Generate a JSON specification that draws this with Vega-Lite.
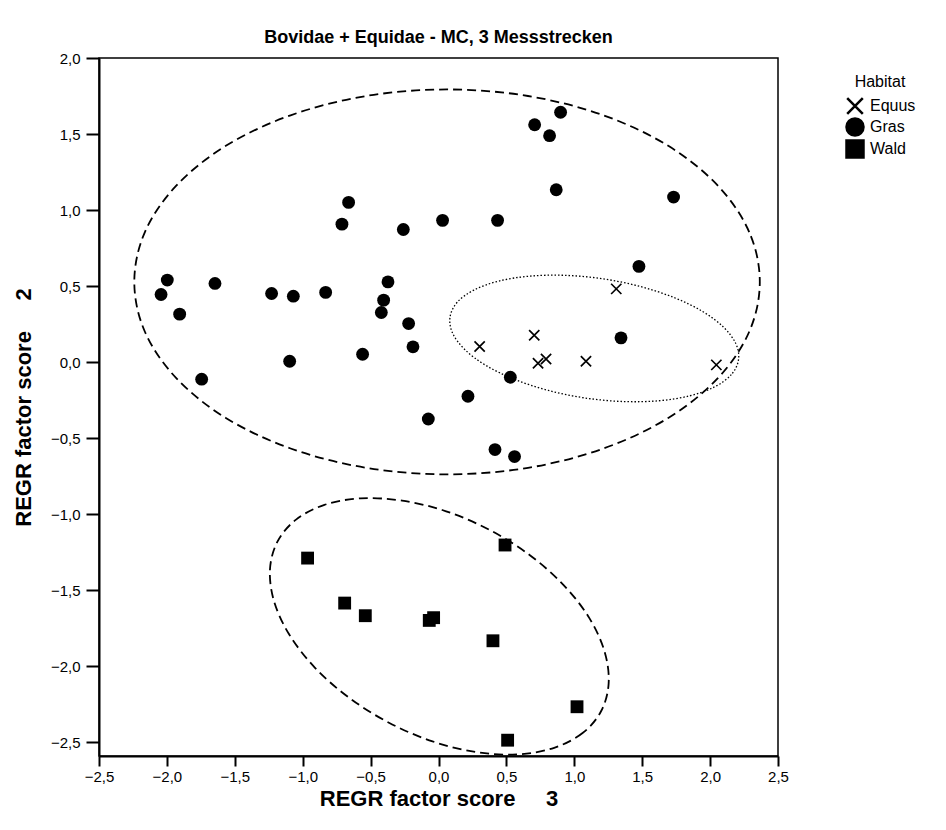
{
  "$schema": "https://vega.github.io/schema/vega-lite/v6.json",
  "width": 679,
  "height": 698,
  "autosize": {"type": "none"},
  "padding": {"left": 99, "top": 58, "right": 168, "bottom": 74},
  "background": "white",
  "title": {"text": "Bovidae + Equidae - MC, 3 Messstrecken", "font": "Liberation Sans", "fontSize": 18, "fontWeight": "bold", "color": "black", "anchor": "middle", "offset": 4},
  "config": {
    "view": {"stroke": "black", "strokeWidth": 1.5},
    "axis": {"grid": false, "domainColor": "black", "domainWidth": 2, "tickColor": "black", "tickWidth": 2, "labelColor": "black", "labelFont": "Liberation Sans", "labelFontSize": 15, "titleFont": "Liberation Sans", "titleFontSize": 22, "titleFontWeight": "bold", "titleColor": "black"}
  },
  "datasets": {
    "pts": [
      {"habitat": "Gras", "x": -1.997, "y": 0.539},
      {"habitat": "Gras", "x": -2.043, "y": 0.444},
      {"habitat": "Gras", "x": -1.906, "y": 0.315},
      {"habitat": "Gras", "x": -1.646, "y": 0.517},
      {"habitat": "Gras", "x": -1.744, "y": -0.113},
      {"habitat": "Gras", "x": -1.229, "y": 0.451},
      {"habitat": "Gras", "x": -1.069, "y": 0.433},
      {"habitat": "Gras", "x": -0.831, "y": 0.458},
      {"habitat": "Gras", "x": -1.096, "y": 0.005},
      {"habitat": "Gras", "x": -0.372, "y": 0.527},
      {"habitat": "Gras", "x": -0.404, "y": 0.407},
      {"habitat": "Gras", "x": -0.421, "y": 0.326},
      {"habitat": "Gras", "x": -0.22, "y": 0.253},
      {"habitat": "Gras", "x": -0.188, "y": 0.1},
      {"habitat": "Gras", "x": -0.559, "y": 0.051},
      {"habitat": "Gras", "x": 0.899, "y": 1.643},
      {"habitat": "Gras", "x": 0.708, "y": 1.561},
      {"habitat": "Gras", "x": 0.818, "y": 1.489},
      {"habitat": "Gras", "x": 0.867, "y": 1.133},
      {"habitat": "Gras", "x": 1.731, "y": 1.085},
      {"habitat": "Gras", "x": -0.662, "y": 1.05},
      {"habitat": "Gras", "x": -0.711, "y": 0.907},
      {"habitat": "Gras", "x": -0.259, "y": 0.872},
      {"habitat": "Gras", "x": 0.03, "y": 0.932},
      {"habitat": "Gras", "x": 0.435, "y": 0.932},
      {"habitat": "Gras", "x": 1.476, "y": 0.629},
      {"habitat": "Gras", "x": 1.344, "y": 0.159},
      {"habitat": "Gras", "x": 0.529, "y": -0.1},
      {"habitat": "Gras", "x": 0.217, "y": -0.225},
      {"habitat": "Gras", "x": -0.075, "y": -0.375},
      {"habitat": "Gras", "x": 0.416, "y": -0.576},
      {"habitat": "Gras", "x": 0.56, "y": -0.622},
      {"habitat": "Equus", "x": 1.309, "y": 0.481},
      {"habitat": "Equus", "x": 0.705, "y": 0.176},
      {"habitat": "Equus", "x": 0.303, "y": 0.102},
      {"habitat": "Equus", "x": 0.733, "y": -0.008},
      {"habitat": "Equus", "x": 0.792, "y": 0.02},
      {"habitat": "Equus", "x": 1.086, "y": 0.005},
      {"habitat": "Equus", "x": 2.046, "y": -0.019},
      {"habitat": "Wald", "x": -0.964, "y": -1.29},
      {"habitat": "Wald", "x": 0.49, "y": -1.204},
      {"habitat": "Wald", "x": -0.691, "y": -1.586},
      {"habitat": "Wald", "x": -0.539, "y": -1.669},
      {"habitat": "Wald", "x": -0.068, "y": -1.7},
      {"habitat": "Wald", "x": -0.036, "y": -1.682},
      {"habitat": "Wald", "x": 0.401, "y": -1.834},
      {"habitat": "Wald", "x": 1.02, "y": -2.268},
      {"habitat": "Wald", "x": 0.509, "y": -2.488}
    ],
    "dashed": [
      {"g": "G", "i": 0, "x": 2.366, "y": 0.527},
      {"g": "G", "i": 1, "x": 2.288, "y": 0.855},
      {"g": "G", "i": 2, "x": 2.057, "y": 1.16},
      {"g": "G", "i": 3, "x": 1.692, "y": 1.422},
      {"g": "G", "i": 4, "x": 1.215, "y": 1.623},
      {"g": "G", "i": 5, "x": 0.659, "y": 1.75},
      {"g": "G", "i": 6, "x": 0.063, "y": 1.793},
      {"g": "G", "i": 7, "x": -0.533, "y": 1.75},
      {"g": "G", "i": 8, "x": -1.089, "y": 1.623},
      {"g": "G", "i": 9, "x": -1.566, "y": 1.422},
      {"g": "G", "i": 10, "x": -1.931, "y": 1.16},
      {"g": "G", "i": 11, "x": -2.162, "y": 0.855},
      {"g": "G", "i": 12, "x": -2.24, "y": 0.527},
      {"g": "G", "i": 13, "x": -2.162, "y": 0.199},
      {"g": "G", "i": 14, "x": -1.931, "y": -0.106},
      {"g": "G", "i": 15, "x": -1.566, "y": -0.368},
      {"g": "G", "i": 16, "x": -1.089, "y": -0.569},
      {"g": "G", "i": 17, "x": -0.533, "y": -0.696},
      {"g": "G", "i": 18, "x": 0.063, "y": -0.739},
      {"g": "G", "i": 19, "x": 0.659, "y": -0.696},
      {"g": "G", "i": 20, "x": 1.215, "y": -0.569},
      {"g": "G", "i": 21, "x": 1.692, "y": -0.368},
      {"g": "G", "i": 22, "x": 2.057, "y": -0.106},
      {"g": "G", "i": 23, "x": 2.288, "y": 0.199},
      {"g": "W", "i": 0, "x": 1.198, "y": -2.296},
      {"g": "W", "i": 1, "x": 1.061, "y": -2.441},
      {"g": "W", "i": 2, "x": 0.852, "y": -2.538},
      {"g": "W", "i": 3, "x": 0.586, "y": -2.581},
      {"g": "W", "i": 4, "x": 0.28, "y": -2.567},
      {"g": "W", "i": 5, "x": -0.044, "y": -2.496},
      {"g": "W", "i": 6, "x": -0.365, "y": -2.373},
      {"g": "W", "i": 7, "x": -0.661, "y": -2.207},
      {"g": "W", "i": 8, "x": -0.911, "y": -2.01},
      {"g": "W", "i": 9, "x": -1.099, "y": -1.793},
      {"g": "W", "i": 10, "x": -1.211, "y": -1.574},
      {"g": "W", "i": 11, "x": -1.241, "y": -1.365},
      {"g": "W", "i": 12, "x": -1.186, "y": -1.182},
      {"g": "W", "i": 13, "x": -1.049, "y": -1.037},
      {"g": "W", "i": 14, "x": -0.84, "y": -0.94},
      {"g": "W", "i": 15, "x": -0.574, "y": -0.897},
      {"g": "W", "i": 16, "x": -0.268, "y": -0.912},
      {"g": "W", "i": 17, "x": 0.056, "y": -0.982},
      {"g": "W", "i": 18, "x": 0.377, "y": -1.105},
      {"g": "W", "i": 19, "x": 0.673, "y": -1.271},
      {"g": "W", "i": 20, "x": 0.923, "y": -1.469},
      {"g": "W", "i": 21, "x": 1.111, "y": -1.685},
      {"g": "W", "i": 22, "x": 1.223, "y": -1.905},
      {"g": "W", "i": 23, "x": 1.253, "y": -2.113}
    ],
    "dotted": [
      {"g": "E", "i": 0, "x": 2.209, "y": 0.014},
      {"g": "E", "i": 1, "x": 2.156, "y": -0.083},
      {"g": "E", "i": 2, "x": 2.034, "y": -0.163},
      {"g": "E", "i": 3, "x": 1.852, "y": -0.222},
      {"g": "E", "i": 4, "x": 1.622, "y": -0.255},
      {"g": "E", "i": 5, "x": 1.359, "y": -0.26},
      {"g": "E", "i": 6, "x": 1.082, "y": -0.237},
      {"g": "E", "i": 7, "x": 0.809, "y": -0.187},
      {"g": "E", "i": 8, "x": 0.56, "y": -0.114},
      {"g": "E", "i": 9, "x": 0.35, "y": -0.023},
      {"g": "E", "i": 10, "x": 0.195, "y": 0.081},
      {"g": "E", "i": 11, "x": 0.104, "y": 0.19},
      {"g": "E", "i": 12, "x": 0.085, "y": 0.296},
      {"g": "E", "i": 13, "x": 0.138, "y": 0.393},
      {"g": "E", "i": 14, "x": 0.26, "y": 0.473},
      {"g": "E", "i": 15, "x": 0.442, "y": 0.532},
      {"g": "E", "i": 16, "x": 0.672, "y": 0.565},
      {"g": "E", "i": 17, "x": 0.935, "y": 0.57},
      {"g": "E", "i": 18, "x": 1.212, "y": 0.547},
      {"g": "E", "i": 19, "x": 1.485, "y": 0.497},
      {"g": "E", "i": 20, "x": 1.734, "y": 0.424},
      {"g": "E", "i": 21, "x": 1.944, "y": 0.333},
      {"g": "E", "i": 22, "x": 2.099, "y": 0.229},
      {"g": "E", "i": 23, "x": 2.19, "y": 0.12}
    ]
  },
  "encoding": {
    "x": {"field": "x", "type": "quantitative",
      "scale": {"domain": [-2.5, 2.5], "nice": false, "zero": false},
      "axis": {"title": "REGR factor score\u00a0\u00a0\u00a0\u00a0\u00a03", "values": [-2.5, -2, -1.5, -1, -0.5, 0, 0.5, 1, 1.5, 2, 2.5], "labelExpr": "replace(format(datum.value, '.1f'), '.', ',')", "tickSize": 10, "labelPadding": 3, "titlePadding": 4, "labelFlush": false}},
    "y": {"field": "y", "type": "quantitative",
      "scale": {"domain": [-2.592, 2.0], "nice": false, "zero": false},
      "axis": {"title": "REGR factor score\u00a0\u00a0\u00a0\u00a0\u00a02", "values": [-2.5, -2, -1.5, -1, -0.5, 0, 0.5, 1, 1.5, 2], "labelExpr": "replace(format(datum.value, '.1f'), '.', ',')", "tickSize": 13, "labelPadding": 6, "titlePadding": 15, "labelFlush": false}}
  },
  "layer": [
    {
      "data": {"name": "dashed"},
      "mark": {"type": "line", "interpolate": "cardinal-closed", "color": "black", "strokeWidth": 1.8, "strokeDash": [9, 5]},
      "encoding": {"detail": {"field": "g"}, "order": {"field": "i", "type": "quantitative"}}
    },
    {
      "data": {"name": "dotted"},
      "mark": {"type": "line", "interpolate": "cardinal-closed", "color": "black", "strokeWidth": 1.3, "strokeDash": [1.5, 2]},
      "encoding": {"detail": {"field": "g"}, "order": {"field": "i", "type": "quantitative"}}
    },
    {
      "data": {"name": "pts"},
      "mark": {"type": "point", "filled": true, "color": "black", "size": 165, "opacity": 1},
      "encoding": {
        "shape": {"field": "habitat", "type": "nominal",
          "scale": {"domain": ["Equus", "Gras", "Wald"], "range": ["M-0.708,-0.892L0.892,0.708L0.708,0.892L-0.892,-0.708ZM-0.892,0.708L0.708,-0.892L0.892,-0.708L-0.708,0.892Z", "circle", "square"]},
          "legend": {"title": "Habitat", "orient": "none", "legendX": 746, "legendY": 16, "titleAnchor": "middle", "titleFont": "Liberation Sans", "titleFontSize": 16, "titleFontWeight": "normal", "titleColor": "black", "labelFont": "Liberation Sans", "labelFontSize": 16, "labelColor": "black", "symbolFillColor": "black", "symbolStrokeColor": "black", "symbolStrokeWidth": 0, "symbolOpacity": 1, "symbolSize": 380, "rowPadding": 2, "titlePadding": 6, "labelOffset": 5,
            "encode": {"symbols": {"enter": {"size": {"signal": "datum.value === 'Equus' ? 190 : 380"}}, "update": {"size": {"signal": "datum.value === 'Equus' ? 190 : 380"}}}}}
        }
      }
    }
  ]
}
